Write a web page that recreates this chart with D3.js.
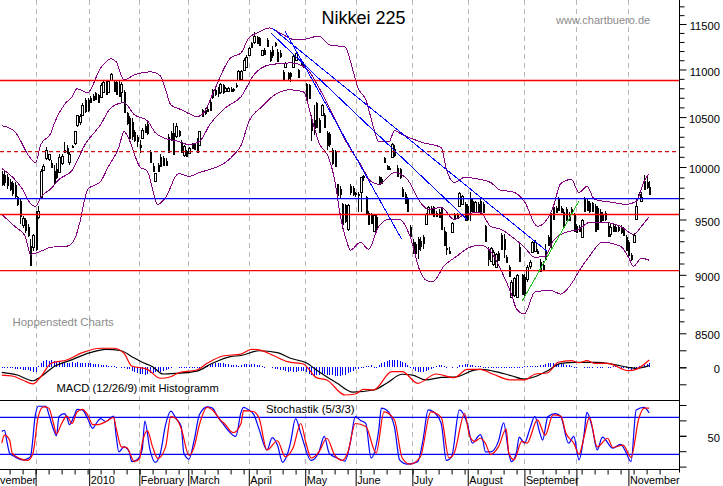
<!DOCTYPE html>
<html>
<head>
<meta charset="utf-8">
<title>Nikkei 225</title>
<script src="https://cdn.jsdelivr.net/npm/d3@7"></script>
<style>
  html, body { margin: 0; padding: 0; background: #fff; overflow: hidden; }
  text { font-family: "Liberation Sans", Arial, sans-serif; }
</style>
</head>
<body>
<div id="chart"></div>
<script>
// one row per trading day: open, high, low, close
const ohlc = [
  [9928,9957,9812,9832],[9918,9957,9812,9850],[9899,9928,9783,9822],[9850,9879,9764,9783],[9841,9860,9716,9745],
  [9822,9850,9697,9716],[9707,9716,9622,9641],[9669,9688,9455,9528],[9445,9528,9418,9510],[9491,9510,9373,9400],
  [9427,9455,9336,9355],[9255,9318,9076,9085],[9246,9364,9210,9355],[9556,9575,9210,9228],[9519,9622,9501,9575],
  [9707,9976,9688,9957],[9976,10034,9957,10014],[10093,10202,10073,10172],[10073,10123,10063,10123],[10044,10073,9995,10005],
  [9957,10024,9832,9850],[9976,10044,9879,9899],[9957,10123,9947,10103],[10044,10123,10024,10113],[10172,10251,10142,10152],
  [10192,10221,10123,10142],[10044,10152,10024,10123],[10211,10221,10192,10202],[10241,10362,10221,10362],[10423,10524,10403,10524],
  [10453,10535,10423,10514],[10524,10648,10514,10627],[10679,10700,10545,10565],[10679,10700,10555,10576],[10700,10721,10648,10658],
  [10721,10742,10669,10679],[10753,10763,10679,10690],[10732,10742,10648,10658],[10711,10858,10700,10837],[10763,10889,10753,10868],
  [10889,10889,10732,10742],[10763,10889,10753,10879],[10889,10964,10879,10954],[10868,10889,10763,10774],[10868,10889,10732,10742],
  [10848,10889,10711,10721],[10763,10868,10648,10848],[10763,10784,10545,10555],[10545,10555,10423,10443],[10494,10514,10251,10291],
  [10453,10494,10271,10311],[10352,10372,10251,10271],[10301,10322,10202,10261],[10221,10271,10142,10202],[10291,10392,10281,10372],
  [10413,10433,10342,10352],[10433,10453,10322,10342],[10152,10172,10044,10054],[10005,10044,9947,9957],[9860,9937,9850,9937],
  [10024,10044,9957,9966],[10103,10123,10005,10014],[10093,10113,10005,10024],[10063,10093,10014,10024],[10301,10332,10142,10152],
  [10342,10362,10261,10271],[10342,10443,10123,10133],[10311,10443,10291,10413],[10362,10372,10301,10322],[10251,10271,10142,10152],
  [10123,10221,10103,10211],[10162,10172,10103,10113],[10142,10202,10123,10192],[10231,10241,10182,10192],[10231,10241,10172,10182],
  [10271,10291,10142,10152],[10221,10362,10211,10362],[10576,10586,10504,10514],[10576,10596,10524,10545],[10586,10607,10555,10565],
  [10658,10679,10565,10576],[10784,10795,10690,10711],[10784,10805,10721,10742],[10784,10816,10711,10753],[10763,10858,10742,10848],
  [10837,10848,10742,10763],[10774,10816,10763,10805],[10774,10816,10763,10805],[10795,10816,10763,10774],[10784,10805,10763,10795],
  [10837,10858,10805,10827],[10889,10996,10879,10985],[10900,10996,10889,10985],[10996,11125,10985,11104],[11028,11157,11017,11136],
  [11157,11245,11146,11234],[11289,11300,11234,11245],[11300,11411,11278,11366],[11355,11366,11278,11289],[11344,11355,11256,11267],
  [11157,11212,11146,11212],[11212,11234,11157,11168],[11322,11344,11245,11256],[11190,11212,11082,11104],[11212,11256,11125,11157],
  [11289,11300,11245,11267],[11190,11223,11082,11093],[11179,11212,11125,11146],[10975,10996,10879,10889],[11028,11082,11017,11071],
  [10964,10975,10889,10911],[10964,10975,10868,10932],[11028,11157,11017,11146],[11104,11190,11093,11179],[10996,11007,10911,10921],
  [11082,11093,11040,11050],[11050,11082,11017,11028],[10848,10858,10679,10690],[10837,10848,10690,10700],[10473,10524,10261,10372],
  [10473,10627,10322,10392],[10648,10658,10392,10403],[10473,10494,10342,10352],[10524,10637,10514,10627],[10524,10545,10392,10403],
  [10342,10362,10172,10221],[10332,10352,10202,10231],[10172,10192,10024,10044],[10152,10172,10005,10014],[9832,9832,9707,9726],
  [9783,9812,9688,9735],[9641,9650,9409,9455],[9631,9641,9464,9482],[9409,9641,9391,9631],[9812,9832,9726,9754],
  [9793,9812,9716,9735],[9745,9754,9707,9735],[9735,9754,9566,9726],[9754,9899,9566,9899],[9899,9918,9860,9908],
  [9707,9716,9538,9547],[9556,9575,9445,9455],[9538,9556,9464,9464],[9391,9547,9382,9538],[9519,9538,9391,9409],
  [9899,9908,9822,9832],[9879,9899,9832,9841],[10093,10103,10044,10054],[10014,10024,9966,9985],[9995,10005,9976,9985],
  [10103,10241,10093,10231],[10182,10221,10103,10123],[9995,10024,9899,9918],[9976,9995,9879,9899],[9783,9803,9707,9716],
  [9735,9754,9641,9650],[9688,9707,9566,9575],[9427,9445,9336,9345],[9291,9318,9183,9201],[9273,9291,9174,9192],
  [9318,9336,9138,9228],[9300,9336,9210,9255],[9336,9355,9228,9282],[9455,9556,9445,9547],[9547,9622,9538,9612],
  [9603,9622,9538,9547],[9612,9622,9519,9528],[9556,9575,9519,9528],[9566,9594,9510,9519],[9594,9612,9400,9409],
  [9391,9427,9255,9264],[9237,9382,9174,9228],[9210,9246,9183,9192],[9382,9473,9373,9464],[9547,9556,9491,9501],
  [9538,9556,9501,9510],[9622,9754,9612,9745],[9641,9726,9631,9716],[9641,9660,9482,9491],[9622,9641,9482,9501],
  [9688,9754,9482,9575],[9669,9688,9556,9566],[9566,9669,9556,9660],[9641,9660,9566,9575],[9669,9707,9547,9566],
  [9641,9660,9556,9566],[9436,9445,9291,9300],[9228,9246,9076,9138],[9120,9246,9112,9237],[9094,9219,9076,9201],
  [9067,9192,9058,9183],[9192,9210,9120,9129],[9355,9373,9219,9228],[9318,9364,9147,9228],[9156,9174,9103,9112],
  [9067,9085,8979,8988],[8806,8953,8797,8936],[8823,8979,8806,8970],[8806,9006,8797,8997],[9246,9273,9112,9120],
  [8997,9006,8823,8832],[8979,9006,8806,8823],[8962,9085,8936,9067],[9076,9129,9050,9112],[9201,9300,9192,9291],
  [9210,9309,9201,9291],[9210,9228,9183,9192],[9112,9138,9023,9032],[9085,9120,9032,9050],[9219,9273,9120,9138],
  [9336,9355,9255,9264],[9556,9566,9246,9246],[9612,9622,9491,9501],[9603,9622,9556,9566],[9697,9707,9575,9585],
  [9603,9622,9556,9566],[9566,9594,9418,9427],[9594,9612,9482,9491],[9547,9566,9482,9491],[9594,9612,9538,9556],
  [9547,9556,9382,9391],[9436,9455,9373,9382],[9427,9445,9382,9391],[9336,9501,9327,9491],[9688,9707,9566,9575],
  [9669,9697,9575,9585],[9650,9669,9556,9575],[9650,9660,9566,9575],[9622,9641,9382,9391],[9603,9622,9400,9409],
  [9566,9594,9464,9473],[9547,9566,9482,9491],[9556,9575,9482,9501],[9436,9464,9336,9345],[9364,9455,9336,9427],
  [9436,9455,9382,9391],[9427,9445,9382,9391],[9427,9445,9382,9400],[9427,9445,9364,9382],[9409,9427,9345,9355],
  [9336,9355,9210,9219],[9291,9309,9165,9174],[9174,9192,9120,9138],[9291,9364,9282,9355],[9501,9688,9491,9622],
  [9697,9754,9688,9735],[9669,9754,9660,9707],[9869,9918,9783,9793],[9850,9899,9783,9803],[9803,9860,9726,9735]
];

// bollinger bands as [day, price]
const bandUpper = [[0,10413],[5,10352],[7,10271],[10,10123],[13,10044],[15,10221],[19,10342],[20,10423],[24,10627],[27,10711],[29,10795],[33,10753],[38,11017],[42,11115],[44,11082],[47,10889],[51,10943],[57,10975],[61,10932],[63,10784],[65,10627],[69,10576],[72,10535],[75,10504],[78,10555],[81,10732],[88,11125],[92,11179],[95,11344],[99,11411],[103,11456],[107,11400],[113,11322],[117,11333],[122,11366],[126,11267],[132,11245],[135,10996],[137,10805],[140,10679],[143,10392],[145,10251],[149,10251],[151,10362],[154,10322],[162,10241],[169,10192],[171,9976],[174,9850],[178,9899],[184,9879],[188,9850],[192,9773],[196,9764],[201,9669],[206,9436],[208,9455],[212,9612],[215,9841],[219,9879],[222,9754],[225,9812],[228,9688],[235,9660],[240,9641],[244,9669],[247,9860],[249,9937]];
const bandMid = [[0,9985],[5,9879],[8,9783],[11,9650],[13,9622],[15,9707],[19,9793],[22,9879],[27,9966],[32,10221],[38,10423],[42,10596],[47,10648],[51,10524],[56,10463],[59,10342],[63,10281],[67,10261],[72,10221],[76,10251],[80,10423],[86,10596],[92,10711],[97,10943],[103,11050],[111,11071],[117,11017],[122,10805],[127,10545],[132,10271],[138,10024],[142,9860],[145,9832],[151,9947],[156,9879],[161,9660],[164,9594],[169,9612],[174,9501],[178,9547],[184,9566],[188,9436],[192,9409],[196,9345],[201,9246],[205,9156],[209,9165],[212,9300],[217,9382],[222,9409],[226,9473],[232,9473],[238,9436],[243,9364],[246,9436],[249,9528]];
const bandLower = [[0,9547],[5,9436],[9,9345],[11,9183],[15,9210],[19,9246],[25,9255],[28,9318],[30,9473],[33,9783],[38,9860],[41,10005],[45,10192],[47,10352],[49,10271],[53,10005],[56,9957],[60,9641],[63,9707],[68,9937],[72,9908],[76,9947],[80,9976],[86,10044],[90,10142],[92,10211],[95,10453],[100,10607],[105,10732],[111,10784],[116,10763],[119,10504],[122,10241],[126,10073],[128,9879],[130,9566],[133,9273],[134,9219],[138,9291],[141,9228],[145,9436],[149,9501],[153,9501],[157,9345],[161,9023],[164,8945],[166,8945],[170,9076],[175,9165],[180,9246],[184,9264],[188,9210],[192,9041],[196,8832],[198,8704],[201,8663],[205,8849],[211,8866],[215,8832],[219,8919],[222,9032],[226,9165],[231,9291],[238,9255],[241,9156],[243,9076],[246,9147],[249,9129]];

// support / resistance lines
const redLevels = [10882, 9546, 9037];
const blueLevels = [9696];
const dashedLevels = [10152];
const blueTrends = [
  [[108.9,11422],[153.8,9318]],
  [[103.5,11400],[178.9,9501]],
  [[103.9,11456],[209.7,9210]]
];
const greenTrends = [[[200.2,8775],[222,9672]]];

// macd panel as [day, value]
const macdSignal = [[0,-59],[6,-91],[12,-158],[15,-111],[20,7],[26,78],[34,172],[40,212],[46,195],[50,125],[54,59],[58,7],[62,-79],[67,-71],[75,-44],[81,47],[88,125],[92,139],[99,195],[106,172],[111,106],[117,54],[122,-52],[129,-188],[135,-291],[143,-267],[148,-188],[154,-82],[158,-91],[163,-149],[169,-118],[175,-111],[181,-40],[184,-24],[189,-44],[196,-99],[201,-138],[205,-111],[210,-40],[215,47],[221,59],[229,59],[235,35],[241,0],[244,-12],[249,19]];
const macdLine = [[0,-91],[4,-102],[8,-149],[12,-196],[15,-111],[19,47],[25,86],[31,172],[38,224],[43,224],[47,165],[50,15],[56,-24],[61,-129],[65,-111],[68,-64],[75,-32],[79,47],[85,133],[92,156],[96,212],[99,204],[104,145],[110,66],[116,39],[121,-122],[125,-149],[132,-326],[136,-314],[139,-259],[143,-267],[150,-52],[154,-52],[160,-188],[167,-79],[174,-122],[179,-24],[184,-24],[189,-82],[196,-149],[201,-149],[205,-82],[210,-64],[214,59],[219,78],[222,54],[225,78],[228,47],[233,47],[241,-40],[244,-24],[249,86]];
const macdHist = [
  -6,-6,-10,-12,-12,-15,-15,-20,-30,-30,
  -35,-40,-55,-50,20,45,75,90,80,85,
  70,60,60,55,60,55,50,60,55,60,
  55,50,50,45,45,40,40,35,30,30,
  25,20,15,10,5,0,-5,-10,-20,-25,
  -40,-55,-70,-75,-80,-85,-80,-70,-65,-60,
  -55,-50,-45,-35,-20,-5,0,0,6,6,
  6,6,6,6,6,6,6,15,20,30,
  35,40,50,55,55,50,40,35,30,25,
  22,20,30,35,38,30,35,38,30,25,
  20,6,0,0,-10,-15,-20,-30,-35,-40,
  -50,-40,-50,-50,-45,-40,-45,-60,-75,-85,
  -100,-90,-85,-75,-80,-85,-90,-95,-100,-100,
  -105,-95,-85,-65,-50,-40,-25,-15,-5,5,
  10,15,25,6,6,30,50,60,70,85,
  90,90,85,75,60,45,30,6,-15,-40,
  -55,-60,-50,-45,-35,-15,6,20,25,25,
  15,6,0,6,0,6,25,30,35,35,
  30,25,20,20,15,-10,6,-6,6,-10,
  -10,-12,-12,-12,-10,-10,-8,-8,-6,-6,
  6,10,12,15,18,20,20,22,25,35,
  45,50,55,45,40,35,35,30,30,10,
  6,6,0,0,6,6,6,6,0,6,
  6,6,0,6,6,10,10,8,6,6,
  -5,-20,-30,-30,-20,10,20,30,40,45
];

// stochastik panel as [day, value]
const stochK = [[0,57],[1,59],[2,40],[3,22],[5,16],[8,11],[10,13],[11,16],[13,86],[14,98],[17,98],[18,86],[20,59],[21,50],[22,81],[24,86],[25,81],[26,68],[28,84],[29,93],[31,92],[33,78],[35,62],[36,68],[38,78],[40,73],[43,82],[44,49],[45,24],[47,32],[49,24],[50,8],[52,11],[54,27],[55,74],[57,27],[59,7],[61,22],[63,68],[65,90],[67,78],[69,65],[70,22],[72,12],[74,43],[76,84],[79,97],[81,95],[83,81],[85,70],[87,59],[90,49],[92,88],[93,96],[95,92],[97,84],[99,60],[102,27],[104,47],[106,35],[108,7],[110,22],[111,38],[113,78],[115,54],[119,10],[122,24],[124,49],[126,21],[129,14],[132,9],[134,38],[136,81],[138,75],[140,70],[142,14],[145,60],[146,95],[148,92],[151,65],[153,11],[156,4],[160,8],[162,43],[164,92],[166,89],[169,70],[171,10],[173,16],[176,92],[179,70],[181,38],[183,48],[184,52],[185,43],[186,24],[188,24],[191,41],[193,71],[195,22],[196,8],[198,24],[199,48],[201,38],[203,60],[205,81],[207,54],[208,43],[210,81],[213,86],[215,81],[218,38],[220,49],[222,11],[224,54],[225,88],[227,65],[229,27],[231,48],[235,30],[238,36],[240,24],[242,8],[244,92],[247,96],[249,87]];
const stochD = [[0,38],[1,51],[3,43],[4,22],[7,13],[10,10],[12,22],[14,81],[16,97],[18,95],[20,68],[21,53],[23,70],[25,82],[27,70],[29,89],[31,93],[33,84],[35,68],[37,68],[40,73],[43,80],[44,62],[46,32],[48,31],[51,8],[53,13],[54,38],[56,58],[58,32],[60,13],[63,32],[65,81],[67,78],[69,62],[72,18],[74,32],[76,68],[79,96],[81,92],[84,76],[86,68],[89,55],[92,70],[93,91],[97,89],[99,78],[102,27],[106,42],[109,16],[112,30],[115,70],[117,38],[119,14],[122,24],[125,46],[128,19],[131,10],[133,22],[136,70],[140,65],[144,22],[147,89],[151,76],[154,14],[157,4],[161,16],[165,89],[169,80],[172,14],[174,22],[178,86],[180,49],[182,41],[184,46],[186,38],[188,20],[191,32],[194,61],[195,22],[197,11],[200,41],[202,38],[206,76],[209,51],[212,84],[215,82],[217,54],[220,38],[222,20],[224,49],[226,80],[229,32],[233,46],[235,31],[239,35],[242,15],[245,78],[247,95],[249,95]];
const stochLevels = [80, 20];

// axes
const monthDays = [13, 33.6, 52.9, 71.7, 95, 116.7, 136.1, 157.9, 179.2, 201, 221, 241];
const monthLabelDays = [33.6, 52.9, 71.7, 95, 116.7, 136.1, 157.9, 179.2, 201, 241];
const monthLabels = ["2010", "February", "March", "April", "May", "June", "July", "August", "September", "November"];
const priceMajor = [11500, 11000, 10500, 10000, 9500, 9000, 8500];
const priceMinor = [11700, 11600, 11400, 11300, 11200, 11100, 10900, 10800, 10700, 10600, 10400, 10300, 10200, 10100, 9900, 9800, 9700, 9600, 9400, 9300, 9200, 9100, 8900, 8800, 8700, 8600];
const macdTicks = [200, 0, -200];
const stochTicks = [100, 75, 50, 25, 0];

const width = 723, height = 486;
const axisX = 679.5, bottomY = 469.5;

const svg = d3.select("#chart").append("svg")
    .attr("width", width)
    .attr("height", height)
    .style("display", "block");

const x = d3.scaleLinear().domain([0, 249]).range([1.8, 649.2]);
const yPrice = d3.scaleLog().domain([11500, 8500]).range([24, 333.3]);
const yMacd = d3.scaleLinear().domain([200, -200]).range([350.3, 384.3]);
const yStoch = d3.scaleLinear().domain([0, 100]).range([466.6, 405]);

const pairLine = (yScale) => d3.line().curve(d3.curveMonotoneX).x(d => x(d[0])).y(d => yScale(d[1]));

// month grid
svg.selectAll(".grid").data(monthDays).join("line")
    .attr("class", "grid")
    .attr("x1", d => Math.round(x(d)) + 0.5)
    .attr("x2", d => Math.round(x(d)) + 0.5)
    .attr("y1", 0)
    .attr("y2", bottomY)
    .attr("stroke", "#b8b8b8")
    .attr("stroke-dasharray", "5,4");

// candles
const candles = svg.append("g").attr("shape-rendering", "crispEdges");
candles.selectAll(".wick").data(ohlc).join("line")
    .attr("class", "wick")
    .attr("x1", (d, i) => Math.round(x(i)) + 0.5)
    .attr("x2", (d, i) => Math.round(x(i)) + 0.5)
    .attr("y1", d => yPrice(d[1]))
    .attr("y2", d => yPrice(d[2]))
    .attr("stroke", "#000");
candles.selectAll(".body").data(ohlc).join("rect")
    .attr("class", "body")
    .attr("x", (d, i) => d[3] > d[0] ? Math.round(x(i)) - 0.5 : Math.round(x(i)) + 0.5)
    .attr("width", d => d[3] > d[0] ? 2 : 1)
    .attr("y", d => Math.round(yPrice(Math.max(d[0], d[3]))) + 0.5)
    .attr("height", d => Math.max(1, Math.round(Math.abs(yPrice(d[0]) - yPrice(d[3])))))
    .attr("fill", d => d[3] > d[0] ? "#fff" : "#000")
    .attr("stroke", "#000");

// bollinger bands
[bandUpper, bandMid, bandLower].forEach(band => {
    svg.append("path")
        .datum(band)
        .attr("d", pairLine(yPrice))
        .attr("fill", "none")
        .attr("stroke", "#800080")
        .attr("shape-rendering", "crispEdges");
});

// horizontal levels
const level = (values, color, w) => svg.append("g").selectAll("line").data(values).join("line")
    .attr("x1", 0)
    .attr("x2", axisX)
    .attr("y1", d => yPrice(d))
    .attr("y2", d => yPrice(d))
    .attr("stroke", color)
    .attr("stroke-width", w);
level(redLevels, "#ff0000", 1.4);
level(blueLevels, "#0000ff", 1.4);
level(dashedLevels, "#d01010", 1.2).attr("stroke-dasharray", "4,3").attr("x2", 676);

// trend lines
const trend = (values, color) => svg.append("g").selectAll("line").data(values).join("line")
    .attr("x1", d => x(d[0][0]))
    .attr("y1", d => yPrice(d[0][1]))
    .attr("x2", d => x(d[1][0]))
    .attr("y2", d => yPrice(d[1][1]))
    .attr("stroke", color)
    .attr("shape-rendering", "crispEdges");
trend(blueTrends, "#0000ff");
trend(greenTrends, "#20c020");

// macd histogram
svg.append("g").attr("shape-rendering", "crispEdges")
    .selectAll("rect").data(macdHist).join("rect")
    .attr("x", (d, i) => Math.round(x(i)))
    .attr("width", 1)
    .attr("y", d => d > 0 ? yMacd(d) : yMacd(0))
    .attr("height", d => d === 0 ? 0 : Math.max(1, Math.abs(yMacd(d) - yMacd(0))))
    .attr("fill", "#0000ff");

// macd lines
svg.append("path").datum(macdSignal).attr("d", pairLine(yMacd))
    .attr("fill", "none").attr("stroke", "#000").attr("stroke-width", 1.2);
svg.append("path").datum(macdLine).attr("d", pairLine(yMacd))
    .attr("fill", "none").attr("stroke", "#ff0000").attr("stroke-width", 1.2);

// panel separator and bottom line
svg.append("line").attr("x1", 0).attr("x2", axisX).attr("y1", 400.5).attr("y2", 400.5)
    .attr("stroke", "#000");
svg.append("line").attr("x1", 0).attr("x2", axisX).attr("y1", bottomY).attr("y2", bottomY)
    .attr("stroke", "#000");

// stochastik
svg.selectAll(".stochLevel").data(stochLevels).join("line")
    .attr("class", "stochLevel")
    .attr("x1", 0)
    .attr("x2", axisX)
    .attr("y1", d => yStoch(d))
    .attr("y2", d => yStoch(d))
    .attr("stroke", "#0000ff")
    .attr("stroke-width", 1.2);
svg.append("path").datum(stochK).attr("d", pairLine(yStoch))
    .attr("fill", "none").attr("stroke", "#0000ff").attr("stroke-width", 1.2);
svg.append("path").datum(stochD).attr("d", pairLine(yStoch))
    .attr("fill", "none").attr("stroke", "#ff0000").attr("stroke-width", 1.2);

// right axes
svg.append("line").attr("x1", axisX).attr("x2", axisX).attr("y1", 0).attr("y2", bottomY + 3)
    .attr("stroke", "#000");

function rightAxis(scale, values, size, labelled) {
    const g = svg.append("g")
        .attr("transform", `translate(${axisX},0)`)
        .call(d3.axisRight(scale).tickValues(values).tickSize(size)
            .tickFormat(labelled ? d3.format("d") : ""));
    g.select(".domain").remove();
    g.selectAll("text")
        .attr("x", 40.5)
        .attr("dy", "0.5em")
        .attr("text-anchor", "end")
        .style("font-size", "11.2px")
        .style("font-family", '"Liberation Sans", Arial, sans-serif');
    return g;
}
rightAxis(yPrice, priceMinor, 5, false);
rightAxis(yPrice, priceMajor, 7, true);
rightAxis(yMacd, macdTicks, 7, false);
rightAxis(yMacd, [0], 7, true);
rightAxis(yStoch, stochTicks, 7, false);
rightAxis(yStoch, [50], 7, true);

// time axis
const weekDays = d3.range(3, 255, 5);
svg.append("g")
    .attr("transform", `translate(0,${bottomY})`)
    .call(d3.axisBottom(x).tickValues(weekDays).tickSize(5).tickFormat(""))
    .select(".domain").remove();
svg.append("g")
    .attr("transform", `translate(0,${bottomY})`)
    .call(d3.axisBottom(x).tickValues(monthDays).tickSize(17).tickFormat(""))
    .select(".domain").remove();
svg.selectAll(".monthLabel").data(monthLabels).join("text")
    .attr("class", "monthLabel")
    .attr("x", (d, i) => x(monthLabelDays[i]) + 1.5)
    .attr("y", 483.5)
    .style("font-size", "10.8px")
    .text(d => d);
// the first month only shows its tail in the original
svg.append("text").attr("x", 0).attr("y", 483.5)
    .style("font-size", "10.8px").text("vember");

// titles
svg.append("text").attr("x", 321.5).attr("y", 23.5)
    .style("font-size", "18px").text("Nikkei 225");
svg.append("text").attr("x", 556).attr("y", 24)
    .style("font-size", "11px").attr("fill", "#8c8c8c").text("www.chartbuero.de");
svg.append("text").attr("x", 12.5).attr("y", 325.5)
    .style("font-size", "11.4px").attr("fill", "#8c8c8c").text("Hoppenstedt Charts");
svg.append("text").attr("x", 56.5).attr("y", 391.5)
    .style("font-size", "11.2px").text("MACD (12/26/9) mit Histogramm");
svg.append("text").attr("x", 266).attr("y", 412.5)
    .style("font-size", "11.4px").text("Stochastik (5/3/3)");
</script>
</body>
</html>
